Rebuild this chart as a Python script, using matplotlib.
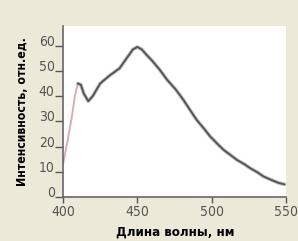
import matplotlib.pyplot as plt

# Данные спектра
wavelength = [400, 403, 406, 408, 410, 412, 414, 417, 420, 425, 431, 438, 444, 447, 450,
              453, 456, 460, 465, 470, 476, 481, 486, 490, 495, 499, 504, 508, 513,
              517, 522, 526, 531, 535, 540, 545, 549]
intensity = [13, 22, 32, 40, 45, 44.5, 41, 38, 40, 45, 48, 51, 56, 58.5, 59.5,
             58.5, 56.5, 54, 50.5, 46.5, 42.5, 38.5, 34, 30.5, 27, 24, 21, 18.7, 16.5,
             14.7, 13, 11.4, 9.7, 8.1, 6.8, 5.6, 5]

xticks = [400, 450, 500, 550]
yticks = [0, 10, 20, 30, 40, 50, 60]

plt.rcParams['font.family'] = ['DejaVu Sans']
plt.rcParams['font.stretch'] = 'condensed'

fig = plt.figure(figsize=(2.98, 2.41), dpi=100, facecolor='#ECE9D9')
ax = fig.add_axes([63/298, 1 - 197/241, 223/298, 171/241])
ax.set_facecolor('white')

# розоватый подъём в начале, дальше серая линия
n = 5
ax.plot(wavelength[:n], intensity[:n], color='#dcaab3', lw=1.4, solid_capstyle='round')
ax.plot(wavelength[n-1:], intensity[n-1:], color='#9a9a9a', lw=2.8, alpha=0.55,
        solid_capstyle='round')
ax.plot(wavelength[n-1:], intensity[n-1:], color='#555555', lw=1.4, solid_capstyle='round')

ax.set_xlim(400, 550)
ax.set_ylim(0, 67.8)
ax.set_xticks(xticks)
ax.set_yticks(yticks)
ax.tick_params(colors='#555555', labelsize=10, width=1)
ax.tick_params(axis='x', length=4, pad=2)
ax.tick_params(axis='y', length=6, pad=0)
for lab in ax.get_yticklabels():
    lab.set_verticalalignment('baseline')
for s in ['top', 'right']:
    ax.spines[s].set_visible(False)
for s in ['left', 'bottom']:
    ax.spines[s].set_color('#666666')
    ax.spines[s].set_linewidth(1.2)

fig.text(175/298, 1 - 232/241, 'Длина волны, нм', ha='center', va='center',
         fontsize=9.5, fontweight='bold')
fig.text(23/298, 1 - 112/241, 'Интенсивность, отн.ед.', ha='center', va='center',
         rotation=90, fontsize=8.8, fontweight='bold')

fig.savefig('out.png', dpi=100, facecolor=fig.get_facecolor())
